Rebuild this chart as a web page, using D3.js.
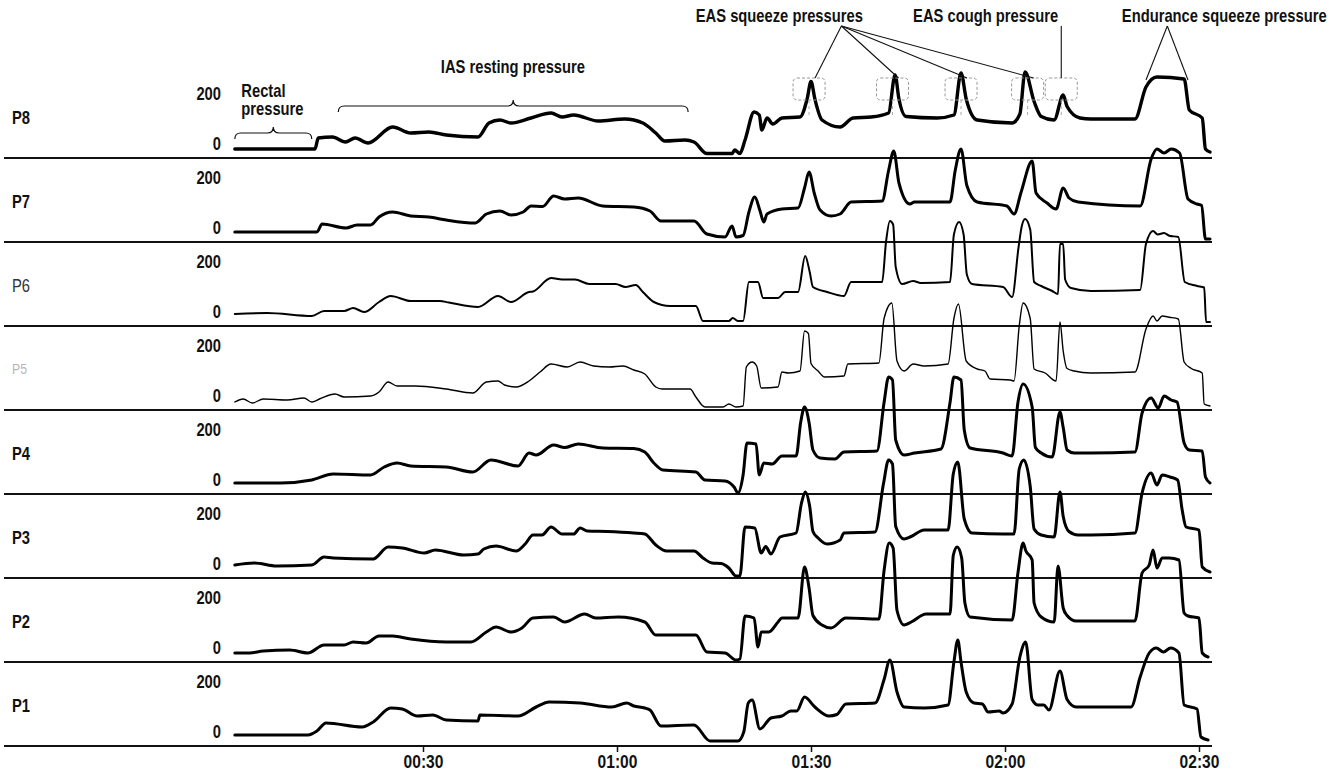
<!DOCTYPE html>
<html>
<head>
<meta charset="utf-8">
<script src="https://cdn.jsdelivr.net/npm/d3@7"></script>
<style>
  body { margin: 0; background: #fff; }
  svg text { font-family: "Liberation Sans", Arial, sans-serif; }
</style>
</head>
<body>
<svg id="chart" width="1342" height="776"></svg>
<script>
"use strict";

// channel names, top to bottom
const channels = ["P8", "P7", "P6", "P5", "P4", "P3", "P2", "P1"];
const timeTicks = [30, 60, 90, 120, 150];
const valueTicks = [0, 200];

// [seconds, pressure]
const p8 = [[0.9,0],[13.3,0],[13.8,44],[16,48],[18,28],[19.5,44],[21.5,24],[25.3,88],[28.1,64],[30.9,68],[33.6,56],[38.5,48],[40.2,104],[41.9,116],[43.6,104],[46.7,124],[49.8,144],[51.5,128],[53.3,136],[57.1,112],[61.2,120],[64,104],[66,64],[67.4,32],[70.5,36],[71.9,28],[73.9,-18],[77.8,-18],[78.2,-4],[79,-18],[79.8,36],[81.2,148],[82,136],[82.4,76],[83.2,124],[84.1,100],[85.5,124],[88.3,128],[89.4,200],[90,270],[90.6,200],[91.7,116],[94.5,88],[96.5,124],[99.3,128],[102,144],[103,296],[103.6,200],[104.7,130],[109.5,124],[112.1,136],[113.2,304],[114,200],[115.7,116],[121.1,104],[122.3,140],[123.1,308],[124.5,190],[125.6,130],[127.6,116],[129,216],[129.6,170],[131.6,124],[133.3,120],[140.1,120],[141.8,248],[143.5,288],[147.7,280],[148.5,156],[150.5,124],[151,0],[151.7,-12]];
const p7 = [[0.9,4],[13.6,4],[14.4,36],[18.1,20],[19.8,32],[21.9,32],[23.2,64],[25.3,84],[28.1,68],[30.9,64],[33.6,52],[38.1,40],[39.8,76],[41.9,88],[43.6,72],[45.5,84],[46.7,108],[48.5,106],[50.2,148],[51.9,136],[54,140],[57.8,108],[62.6,104],[65.1,88],[66.8,48],[71.9,48],[73.9,-4],[76.7,-16],[77.8,28],[78.4,-16],[79.5,-10],[80.4,84],[81.3,144],[82.1,90],[82.7,44],[83.2,76],[85.5,96],[88,100],[89,180],[89.7,244],[90.5,160],[91.4,92],[93.1,68],[94.5,76],[96.2,124],[101,128],[102,250],[102.8,328],[103.6,200],[105.3,116],[106,124],[111.5,124],[112.3,250],[113.2,336],[114.1,190],[115.7,124],[120.3,108],[121.4,76],[122.5,164],[124.2,288],[124.8,160],[126.5,120],[127.9,96],[129,180],[129.9,140],[131.3,124],[140.9,108],[142.6,296],[143.5,336],[144.6,320],[145.7,336],[147,320],[148.3,136],[149.7,116],[150.4,110],[151,-24],[151.7,-24]];
const p6 = [[0.9,12],[5.9,16],[12.8,4],[14.7,24],[17.8,24],[19.2,36],[20.9,20],[23.2,60],[25,84],[28.1,64],[32.6,64],[34,58],[38.5,40],[41.6,84],[43.6,60],[46.4,100],[47,102],[49.8,156],[51.5,150],[53.5,150],[55.7,132],[59.8,132],[61.3,120],[62.9,128],[64,100],[65.7,60],[68.2,44],[72.2,44],[73.3,-16],[77.3,-16],[77.9,-4],[78.7,-16],[79.5,-16],[80.4,140],[81.8,140],[82.6,76],[84.9,76],[86,100],[88,100],[89.1,244],[89.8,180],[90.3,120],[92.5,100],[95.1,84],[96.2,140],[101,140],[101.6,300],[102.2,384],[102.7,370],[103.1,200],[104.1,132],[105.8,144],[107,136],[111.5,140],[112.1,330],[112.9,380],[113.6,330],[114.1,170],[114.9,132],[119.7,120],[121.1,80],[122.1,280],[122.6,364],[123.1,392],[123.9,350],[124.5,140],[125.6,124],[127.3,104],[128.2,92],[128.5,292],[129,292],[129.3,150],[130.2,116],[133.3,104],[140.9,108],[141.8,292],[142.9,344],[143.6,330],[144.6,336],[145.4,325],[146.8,320],[147.8,140],[149.7,124],[150.8,118],[151.1,-20],[151.7,-20]];
const p5 = [[0.9,-4],[2.2,8],[3.6,-8],[5.3,8],[9,4],[11.6,12],[12.8,-4],[14,8],[16.4,28],[17.8,16],[21.9,20],[23.2,36],[24.6,76],[26,60],[28.8,60],[33.6,48],[37.7,32],[39.8,76],[41.6,80],[42.6,64],[44.4,56],[46.4,80],[48.1,116],[49.8,148],[52.3,136],[54.3,156],[56.4,140],[58.8,136],[60.9,140],[62.6,124],[64.3,108],[66,56],[67,48],[71.3,48],[72.2,16],[73.6,-24],[76.4,-24],[77.3,-12],[78.4,-24],[79.5,-20],[80,136],[80.9,156],[81.6,140],[82.3,52],[84.9,56],[85.5,116],[86.5,112],[88.3,120],[89,280],[89.6,270],[90,150],[91.1,120],[92.1,96],[95.1,100],[95.7,148],[100.5,152],[101.3,330],[102.5,392],[103.3,160],[104.4,120],[105.8,148],[107.5,140],[111.2,148],[112.1,330],[112.8,388],[114,160],[115.7,128],[116.9,120],[117.7,88],[120.8,84],[121.4,80],[122.2,300],[122.8,392],[123.9,330],[124.5,128],[126.2,112],[127.9,80],[128.5,316],[129,200],[129.6,130],[130.7,120],[133.3,112],[140.1,116],[141.8,288],[142.9,340],[143.5,320],[144.3,340],[145.4,335],[146.8,328],[147.7,156],[148.8,130],[150.5,112],[150.8,-12],[151.7,-20]];
const p4 = [[0.9,8],[8,8],[12.8,20],[16.1,44],[21.9,40],[24,72],[26,88],[28.1,76],[33.6,72],[37.7,52],[40.5,100],[44.7,76],[46.4,128],[47.5,120],[50.2,160],[51.9,150],[54,164],[57.8,148],[62.6,146],[64.3,132],[65.7,88],[67.1,60],[72.2,52],[73.6,20],[76.7,16],[78.1,-8],[78.7,-32],[79.5,40],[80.1,168],[81.5,164],[82,40],[82.7,88],[84,84],[85.5,116],[87.7,116],[88.4,250],[89,312],[89.7,250],[90.3,140],[91.4,108],[93.7,104],[95.1,132],[100.2,136],[101.3,330],[102,432],[102.6,420],[103.1,180],[104.4,120],[106,128],[110.1,144],[111.5,330],[112.1,432],[113.2,420],[113.7,220],[114.6,148],[119.7,128],[121.1,116],[122,330],[122.8,404],[124.2,312],[124.7,150],[125.6,128],[127.3,112],[128.5,292],[129,230],[129.6,140],[130.7,128],[133.3,128],[140.1,132],[141.2,288],[142.6,348],[143.7,308],[144.6,356],[145.7,340],[146.6,332],[147.7,168],[148.5,140],[150.5,136],[151,32],[151.7,8]];
const p3 = [[0.9,16],[3.9,24],[7.4,12],[12.8,16],[14.7,48],[16.1,44],[22.3,40],[24.6,88],[26.8,84],[30.2,64],[31.9,76],[36.3,56],[38.5,60],[39.4,80],[41.3,92],[44.4,72],[45.8,100],[47,136],[48.4,136],[49.8,168],[51.5,140],[53.3,140],[54.3,164],[55.4,152],[58.5,150],[62.6,144],[64.3,140],[66,96],[67.7,72],[71.9,72],[73.3,44],[74.7,24],[76.1,22],[77.3,4],[78.4,-28],[79,-28],[79.8,168],[81.3,164],[82.3,64],[83,90],[83.8,60],[85.2,128],[87.7,144],[88.5,260],[89.1,308],[89.8,250],[90.3,150],[91.1,124],[92.5,100],[94.5,116],[95.1,144],[99.9,148],[101.2,340],[102,436],[102.6,420],[103.1,170],[104.4,120],[105.5,130],[107.5,156],[111.2,156],[112,380],[112.7,428],[113.7,200],[114.9,144],[119.7,140],[121.4,140],[122.2,400],[122.9,436],[123.9,330],[124.5,160],[125.6,136],[127.6,128],[128.5,308],[129,210],[129.9,150],[131.3,136],[133.3,136],[140.1,144],[141.2,304],[142.6,384],[143.5,336],[144.3,376],[145.5,368],[146.7,356],[147.4,236],[148,168],[150,156],[150.5,8],[151.7,-12]];
const p2 = [[0.9,0],[3.2,0],[5.3,8],[9.4,12],[12.2,0],[14.7,32],[17.8,32],[19.2,44],[21.2,40],[23.2,68],[25.3,68],[28.1,56],[33.6,44],[37.4,44],[39.8,84],[41.3,104],[43.6,84],[45.3,100],[47,140],[50.2,144],[51.9,124],[55,156],[56.7,140],[60.2,144],[64.3,124],[66,72],[72.2,72],[73.9,4],[76.7,0],[78.4,-28],[79,-24],[79.8,148],[81.2,140],[81.8,24],[82.3,84],[83.5,84],[84.9,124],[85.5,140],[88,140],[89,344],[89.7,260],[90.3,150],[91.7,112],[93.1,100],[95.4,140],[100.5,136],[101.3,330],[102.1,440],[102.7,420],[103.3,170],[104.4,112],[105.5,124],[107.8,156],[111.5,156],[112,390],[112.6,424],[113.3,380],[113.8,200],[114.6,144],[121.1,132],[122,320],[122.8,440],[123.2,410],[124.2,372],[124.5,200],[125.6,144],[127.6,124],[128.2,348],[129,180],[129.6,150],[131,128],[140.1,128],[141.2,320],[142.3,352],[142.9,412],[143.5,340],[144.3,380],[145.4,380],[146.9,372],[147.7,160],[148.3,148],[150,140],[150.5,0],[151.4,-16]];
const p1 = [[0.9,8],[12.2,8],[13.6,24],[15,56],[20.6,40],[22.3,60],[25,116],[26.8,112],[29.1,84],[31.5,88],[33.6,68],[38.5,64],[38.8,88],[44.7,84],[47.5,120],[49.5,140],[54.3,136],[59.2,120],[61.5,136],[62.6,124],[64.3,116],[65.1,108],[66.8,44],[71.9,48],[74.4,-16],[78.7,-16],[79.6,20],[80.3,136],[80.9,148],[82.1,32],[83.8,76],[85.5,84],[86.9,104],[87.8,104],[89,160],[90.6,120],[92.8,84],[94,90],[95.4,132],[99.9,136],[101.3,230],[102.2,308],[103.3,180],[104.4,120],[107.5,116],[111.2,128],[112.1,300],[112.7,388],[113.2,300],[114,180],[115.2,136],[116.5,132],[117.4,100],[119.1,104],[119.7,96],[121.1,132],[122.3,320],[123.2,380],[124.2,150],[125.1,128],[126,128],[126.8,108],[128.5,264],[129.6,150],[131,120],[139.5,120],[140.9,240],[142.3,336],[143.4,356],[144.5,340],[145.6,356],[146.9,336],[147.7,128],[149.7,112],[150.3,0],[151.4,-12]];

const traces = [p8, p7, p6, p5, p4, p3, p2, p1];
const lineWidths = [3.4, 3, 2, 1.4, 3, 3, 3, 3];

// annotation times (seconds)
const squeezeTimes = [89.7, 102.6, 113.2, 123.5];
const coughTime = 128.7;
const enduranceTimes = [141.8, 148.3];

const svg = d3.select("#chart");
const squeeze = 0.82; // narrow type, like the original

const x = d3.scaleLinear().domain([0, 150]).range([229, 1199]);
const band = d3.scaleBand().domain(channels).range([74, 746]);

const yFor = (ch) => {
  const bottom = band(ch) + band.bandwidth();
  return d3.scaleLinear().domain([0, 200]).range([bottom - 9, bottom - 59]);
};

// text placed at a point, narrowed horizontally
const label = (parent, px, py, str, opts = {}) => {
  parent.append("g")
    .attr("transform", `translate(${px},${py})`)
    .append("text")
    .attr("transform", `scale(${squeeze},1)`)
    .attr("text-anchor", opts.anchor || "start")
    .attr("font-size", opts.size || 18)
    .attr("font-weight", opts.weight || "bold")
    .attr("fill", opts.fill || "#111")
    .text(str);
};

// separators
svg.append("g")
  .selectAll("line")
  .data(channels)
  .join("line")
  .attr("x1", 4)
  .attr("x2", 1212)
  .attr("y1", (ch) => band(ch) + band.bandwidth())
  .attr("y2", (ch) => band(ch) + band.bandwidth())
  .attr("stroke", "#111")
  .attr("stroke-width", 2);

channels.forEach((ch, i) => {
  const y = yFor(ch);
  const g = svg.append("g");
  const bottom = band(ch) + band.bandwidth();

  if (ch === "P5") {
    label(g, 12, bottom - 36, ch, { size: 15, weight: "normal", fill: "#b5b5b5" });
  } else {
    label(g, 12, bottom - 34, ch, { weight: ch === "P6" ? "normal" : "bold", fill: ch === "P6" ? "#333" : "#111" });
  }

  const axis = d3.axisLeft(y).tickValues(valueTicks).tickSize(0).tickPadding(0);
  g.append("g")
    .attr("transform", "translate(221,0)")
    .call(axis)
    .call((a) => a.select(".domain").remove())
    .call((a) => a.selectAll("text")
      .attr("dy", 0)
      .attr("transform", `scale(${squeeze},1)`)
      .attr("font-size", 18)
      .attr("font-weight", "bold")
      .attr("fill", "#111")
      .style("font-family", '"Liberation Sans", Arial, sans-serif'));

  const line = d3.line()
    .x((d) => x(d[0]))
    .y((d) => y(d[1]))
    .curve(d3.curveMonotoneX);

  g.append("path")
    .datum(traces[i])
    .attr("d", line)
    .attr("fill", "none")
    .attr("stroke", "#000")
    .attr("stroke-width", lineWidths[i])
    .attr("stroke-linejoin", "round")
    .attr("stroke-linecap", "round");
});

// time axis
const fmt = (s) => `${String(Math.floor(s / 60)).padStart(2, "0")}:${String(s % 60).padStart(2, "0")}`;
svg.append("g")
  .attr("transform", "translate(0,746)")
  .call(d3.axisBottom(x).tickValues(timeTicks).tickFormat(fmt).tickSize(6).tickPadding(3))
  .call((a) => a.select(".domain").remove())
  .call((a) => a.selectAll("line").attr("stroke", "#111").attr("stroke-width", 1.5))
  .call((a) => a.selectAll("text")
    .attr("transform", `scale(${squeeze},1)`)
    .attr("font-size", 19)
    .attr("font-weight", "bold")
    .attr("fill", "#111")
    .style("font-family", '"Liberation Sans", Arial, sans-serif'));

// annotations on P8
const y8 = yFor("P8");
const ann = svg.append("g").attr("fill", "none").attr("stroke", "#111").attr("stroke-width", 1.2);

const brace = (x0, x1, yy, h) => {
  const xm = (x0 + x1) / 2;
  return `M${x0},${yy + h} Q${x0},${yy} ${x0 + h},${yy} L${xm - h},${yy} Q${xm},${yy} ${xm},${yy - h} Q${xm},${yy} ${xm + h},${yy} L${x1 - h},${yy} Q${x1},${yy} ${x1},${yy + h}`;
};

ann.append("path").attr("d", brace(x(0.9), x(12.8), y8(64), 6));
ann.append("path").attr("d", brace(x(16.9), x(71), y8(172), 6));

const labels = svg.append("g");
label(labels, x(1.9), y8(208), "Rectal");
label(labels, x(1.9), y8(136), "pressure");
label(labels, x(43.9), y8(304), "IAS resting pressure", { anchor: "middle" });

const topY = 22;
label(labels, x(85.1), topY, "EAS squeeze pressures", { anchor: "middle" });
label(labels, x(117), topY, "EAS cough pressure", { anchor: "middle" });
label(labels, x(153.9), topY, "Endurance squeeze pressure", { anchor: "middle" });

// dashed boxes round the peaks
const boxTimes = squeezeTimes.concat([coughTime]);
const boxes = svg.append("g");
boxTimes.forEach((t) => {
  boxes.append("rect")
    .attr("x", x(t) - 16)
    .attr("y", y8(284))
    .attr("width", 32)
    .attr("height", y8(196) - y8(284))
    .attr("rx", 4)
    .attr("fill", "none")
    .attr("stroke", "#999")
    .attr("stroke-width", 1)
    .attr("stroke-dasharray", "3,2");
  boxes.append("line")
    .attr("x1", x(t))
    .attr("x2", x(t))
    .attr("y1", y8(196))
    .attr("y2", y8(130))
    .attr("stroke", "#aaa")
    .attr("stroke-width", 1)
    .attr("stroke-dasharray", "3,3");
});

// leader lines
const lead = svg.append("g").attr("stroke", "#111").attr("stroke-width", 1.1);
const fromY = 26;
squeezeTimes.forEach((t) => {
  lead.append("line").attr("x1", x(94.7)).attr("y1", fromY).attr("x2", x(t) + 6).attr("y2", y8(284));
});
lead.append("line").attr("x1", x(coughTime)).attr("y1", fromY).attr("x2", x(coughTime)).attr("y2", y8(284));
enduranceTimes.forEach((t) => {
  lead.append("line").attr("x1", x(145.1)).attr("y1", fromY).attr("x2", x(t)).attr("y2", y8(276));
});
</script>
</body>
</html>
